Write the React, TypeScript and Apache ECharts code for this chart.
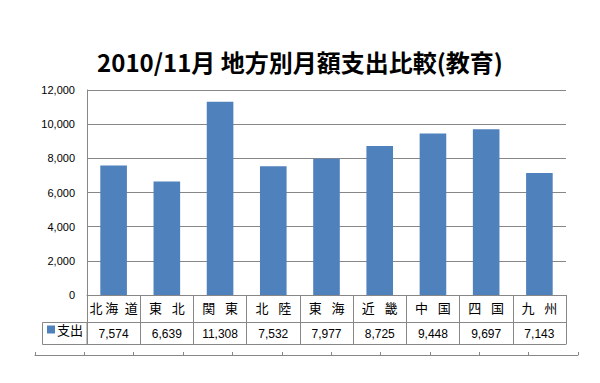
import React, { useEffect, useRef } from "react";
import * as echarts from "echarts";

const TITLE = "2010/11月 地方別月額支出比較(教育)";
const SERIES_NAME = "支出";
const categories = ["北海道", "東北", "関東", "北陸", "東海", "近畿", "中国", "四国", "九州"];
const values = [7574, 6639, 11308, 7532, 7977, 8725, 9448, 9697, 7143];
const yMin = 0;
const yMax = 12000;
const yInterval = 2000;
const rulerTicks = ["", "", "", "", "", "", "", "", "", "", ""];

const GRAY = "#878787";
const BLUE = "#4f81bd";

function spaced(name: string): string {
  if (name.length === 2) return name[0] + "\u2002\u2005" + name[1];
  if (name.length === 3) return name[0] + "\u2009" + name[1] + "\u2002" + name[2];
  return name;
}

const fmt = (v: number) => v.toLocaleString("en-US");

export default function App() {
  const ref = useRef<HTMLDivElement>(null);
  useEffect(() => {
    if (!ref.current) return;
    const chart = echarts.init(ref.current, undefined, { renderer: "svg" });
    chart.setOption({
      animation: false,
      backgroundColor: "#ffffff",
      title: {
        text: TITLE,
        left: "center",
        top: 44,
        textStyle: {
          fontFamily: "Noto Sans CJK JP",
          fontSize: 24,
          fontWeight: "bold",
          color: "#000",
        },
      },
      legend: {
        data: [SERIES_NAME],
        left: 47,
        top: 323,
        icon: "rect",
        itemWidth: 8,
        itemHeight: 8,
        padding: 0,
        textStyle: {
          fontFamily: "Noto Sans CJK JP",
          fontSize: 13,
          color: "#000",
          padding: [0, 0, 0, -3],
        },
      },
      grid: [
        { left: 87, right: 34, top: 90, bottom: 88 },
        { left: 35, right: 22, top: 350, bottom: 28 },
      ],
      xAxis: [
        {
          gridIndex: 0,
          type: "category",
          data: categories,
          position: "bottom",
          axisLine: { show: true, lineStyle: { color: GRAY, width: 1 } },
          axisTick: { show: true, interval: 0, alignWithLabel: false, length: 49, lineStyle: { color: GRAY, width: 1 } },
          axisLabel: {
            interval: 0,
            margin: 6,
            fontFamily: "Noto Sans CJK JP",
            fontSize: 13,
            color: "#000",
            formatter: (v: string) => spaced(v),
          },
        },
        {
          gridIndex: 0,
          type: "category",
          data: categories,
          position: "bottom",
          offset: 27,
          axisLine: { show: true, lineStyle: { color: GRAY, width: 1 } },
          axisTick: { show: false },
          axisLabel: {
            interval: 0,
            margin: 6,
            fontFamily: "Liberation Sans",
            fontSize: 12,
            color: "#000",
            formatter: (_v: string, i: number) => fmt(values[i]),
          },
        },
        {
          gridIndex: 0,
          type: "category",
          data: categories,
          position: "bottom",
          offset: 49,
          axisLine: { show: true, lineStyle: { color: GRAY, width: 1 } },
          axisTick: { show: false },
          axisLabel: { show: false },
        },
        {
          gridIndex: 1,
          type: "category",
          data: rulerTicks,
          position: "bottom",
          axisLine: { show: true, lineStyle: { color: GRAY, width: 1 } },
          axisTick: { show: true, interval: 0, inside: true, alignWithLabel: false, length: 3, lineStyle: { color: GRAY } },
          axisLabel: { show: false },
        },
      ],
      yAxis: [
        {
          gridIndex: 0,
          type: "value",
          min: yMin,
          max: yMax,
          interval: yInterval,
          axisLine: { show: true, lineStyle: { color: GRAY, width: 1 } },
          axisTick: { show: false },
          splitLine: { show: true, lineStyle: { color: GRAY, width: 1 } },
          axisLabel: {
            margin: 12,
            fontFamily: "Liberation Sans",
            fontSize: 11,
            color: "#000",
            formatter: (v: number) => fmt(v),
          },
        },
        { gridIndex: 1, type: "value", show: false },
      ],
      graphic: [
        {
          type: "rect",
          shape: { x: 42.5, y: 322.5, width: 44.5, height: 22 },
          style: { fill: "none", stroke: GRAY, lineWidth: 1 },
          silent: true,
        },
      ],
      series: [
        {
          name: SERIES_NAME,
          type: "bar",
          xAxisIndex: 0,
          yAxisIndex: 0,
          data: values,
          barWidth: "50%",
          itemStyle: { color: BLUE },
        },
      ],
    });
    return () => chart.dispose();
  }, []);
  return (
    <div
      ref={ref}
      style={{ position: "fixed", left: 0, top: 0, width: 600, height: 383, background: "#fff" }}
    />
  );
}
